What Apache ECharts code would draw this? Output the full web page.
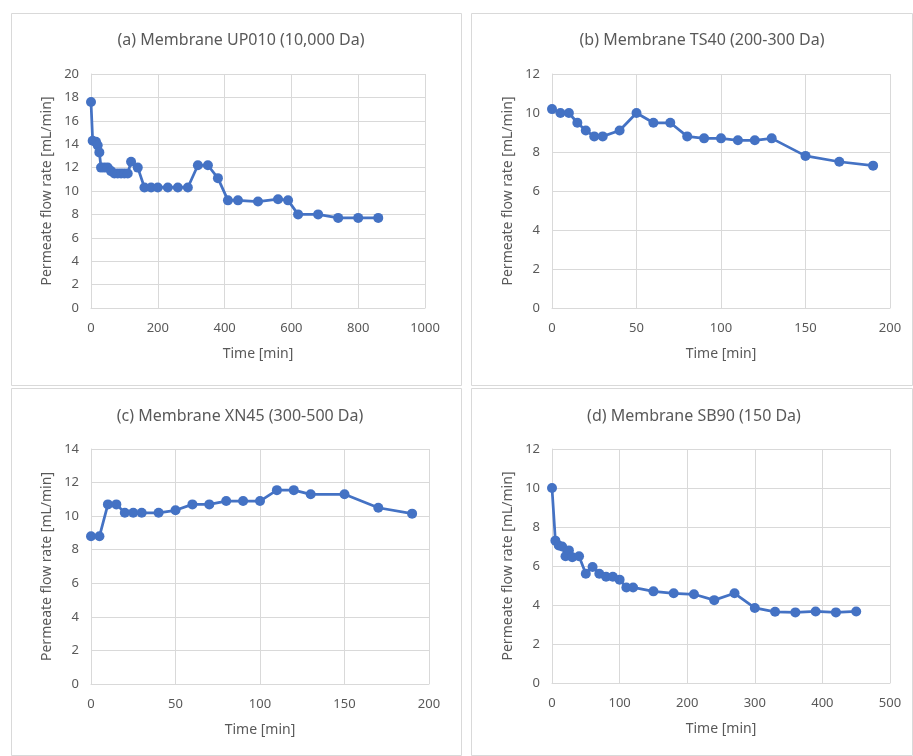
<!DOCTYPE html>
<html>
<head>
<meta charset="utf-8">
<script src="https://cdn.jsdelivr.net/npm/echarts@6/dist/echarts.min.js"></script>
<style>
html,body{margin:0;padding:0;background:#fff;}
#c{width:913px;height:756px;}
</style>
</head>
<body>
<div id="c"></div>
<script>
// ---- data ----
const titles = ['(a) Membrane UP010 (10,000 Da)', '(b) Membrane TS40 (200-300 Da)', '(c) Membrane XN45 (300-500 Da)', '(d) Membrane SB90 (150 Da)'];

const timeA = [0,5,15,20,25,30,40,50,60,70,80,90,100,110,120,140,160,180,200,230,260,290,320,350,380,410,440,500,560,590,620,680,740,800,860];
const flowA = [17.6,14.3,14.2,13.9,13.3,12.0,12.0,12.0,11.7,11.5,11.5,11.5,11.5,11.5,12.5,12.0,10.3,10.3,10.3,10.3,10.3,10.3,12.2,12.2,11.1,9.2,9.2,9.1,9.3,9.2,8.0,8.0,7.7,7.7,7.7];

const timeB = [0,5,10,15,20,25,30,40,50,60,70,80,90,100,110,120,130,150,170,190];
const flowB = [10.2,10.0,10.0,9.5,9.1,8.8,8.8,9.1,10.0,9.5,9.5,8.8,8.7,8.7,8.6,8.6,8.7,7.8,7.5,7.3];

const timeC = [0,5,10,15,20,25,30,40,50,60,70,80,90,100,110,120,130,150,170,190];
const flowC = [8.8,8.8,10.7,10.7,10.2,10.2,10.2,10.2,10.35,10.7,10.7,10.9,10.9,10.9,11.55,11.55,11.3,11.3,10.5,10.15];

const timeD = [0,5,10,15,20,25,30,40,50,60,70,80,90,100,110,120,150,180,210,240,270,300,330,360,390,420,450];
const flowD = [10.0,7.3,7.05,7.0,6.5,6.8,6.45,6.5,5.6,5.95,5.6,5.45,5.45,5.3,4.9,4.9,4.7,4.6,4.55,4.25,4.6,3.85,3.65,3.62,3.67,3.62,3.67];

const xMax = [1000, 200, 200, 500];
const xInt = [200, 50, 50, 100];
const yMax = [20, 12, 14, 12];
const yInt = [2, 2, 2, 2];

// ---- layout ----
const FONT = '"Noto Sans", "Open Sans", sans-serif';
const TXT = '#595959';
const GRIDC = '#d9d9d9';
const grids = [
  {left: 91, top: 74, width: 334, height: 234},
  {left: 552, top: 74, width: 338, height: 234},
  {left: 91, top: 449, width: 338, height: 235},
  {left: 552, top: 449, width: 338, height: 234}
];
const titlePos = [[236, 27], [697, 27], [235, 403], [689, 403]];
const panels = [[11, 13, 450, 372], [471, 13, 441, 372], [11, 388, 450, 367], [471, 388, 441, 367]];

const seriesData = [[timeA, flowA], [timeB, flowB], [timeC, flowC], [timeD, flowD]].map(
  ([t, f]) => t.map((v, i) => [v, f[i]])
);

const option = {
  backgroundColor: '#fff',
  animation: false,
  title: titles.map((t, i) => ({
    text: t,
    left: titlePos[i][0],
    top: titlePos[i][1],
    textAlign: 'center',
    textStyle: {fontFamily: FONT, fontSize: 16, fontWeight: 'normal', color: TXT}
  })),
  graphic: panels.map(p => ({
    type: 'rect', silent: true, z: -1,
    shape: {x: p[0] + 0.5, y: p[1] + 0.5, width: p[2], height: p[3]},
    style: {fill: '#fff', stroke: GRIDC, lineWidth: 1}
  })),
  grid: grids,
  xAxis: grids.map((g, i) => ({
    type: 'value', gridIndex: i, min: 0, max: xMax[i], interval: xInt[i],
    name: 'Time [min]', nameLocation: 'middle', nameGap: 39,
    nameTextStyle: {fontFamily: FONT, fontSize: 14, color: TXT},
    axisLine: {show: true, lineStyle: {color: GRIDC, width: 1}},
    axisTick: {show: false},
    axisLabel: {fontFamily: FONT, fontSize: 13, color: TXT, margin: 14, formatter: v => String(v)},
    splitLine: {show: true, lineStyle: {color: GRIDC, width: 1}}
  })),
  yAxis: grids.map((g, i) => ({
    type: 'value', gridIndex: i, min: 0, max: yMax[i], interval: yInt[i],
    name: 'Permeate flow rate [mL/min]', nameLocation: 'middle', nameGap: 37,
    nameTextStyle: {fontFamily: FONT, fontSize: 14, color: TXT},
    axisLine: {show: true, lineStyle: {color: GRIDC, width: 1}},
    axisTick: {show: false},
    axisLabel: {fontFamily: FONT, fontSize: 13, color: TXT, margin: 12},
    splitLine: {show: true, lineStyle: {color: GRIDC, width: 1}}
  })),
  series: seriesData.map((d, i) => ({
    type: 'line', xAxisIndex: i, yAxisIndex: i, data: d,
    symbol: 'circle', symbolSize: 10, showAllSymbol: true,
    lineStyle: {color: '#4472C4', width: 2.75},
    itemStyle: {color: '#4472C4'},
    clip: false
  }))
};

const chart = echarts.init(document.getElementById('c'), null, {renderer: 'canvas'});
chart.setOption(option);
</script>
</body>
</html>
